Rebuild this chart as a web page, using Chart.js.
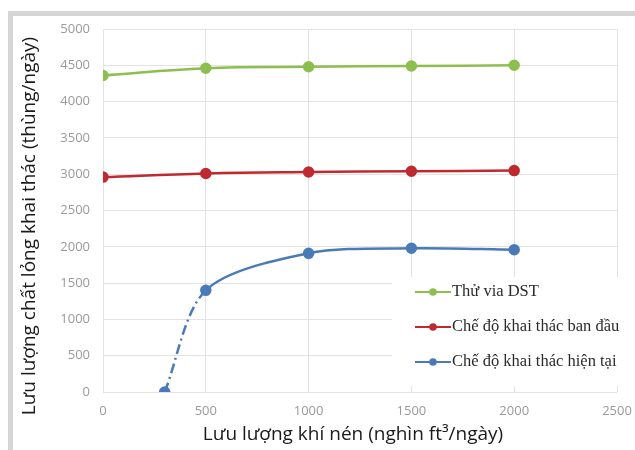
<!DOCTYPE html>
<html>
<head>
<meta charset="utf-8">
<script src="https://cdn.jsdelivr.net/npm/chart.js@4/dist/chart.umd.min.js"></script>
<style>
  html, body { margin: 0; padding: 0; background: #ffffff; }
  #wrap { width: 635px; height: 450px; position: relative; }
</style>
</head>
<body>
<div id="wrap"><canvas id="chart" width="635" height="450"></canvas></div>
<script>
// Gas-lift injection rate (thousand ft3/day) vs. produced liquid rate (bbl/day)
const gasRates = [0, 500, 1000, 1500, 2000];
const dstTest = [4360, 4460, 4480, 4490, 4500];
const initialRegime = [2960, 3010, 3030, 3040, 3050];
const currentGasRates = [300, 500, 1000, 1500, 2000];
const currentRegime = [0, 1400, 1910, 1980, 1960];

const seriesLabels = ['Thử via DST', 'Chế độ khai thác ban đầu', 'Chế độ khai thác hiện tại'];
const xTicks = [0, 500, 1000, 1500, 2000, 2500];
const yTicks = [0, 500, 1000, 1500, 2000, 2500, 3000, 3500, 4000, 4500, 5000];

const xTitle = 'Lưu lượng khí nén (nghìn ft³/ngày)';
const yTitle = 'Lưu lượng chất lỏng khai thác (thùng/ngày)';

const COLORS = { dst: '#8dbf4f', initial: '#bf2a30', current: '#4a7bb8' };

const pts = (xs, ys) => xs.map((x, i) => ({ x: x, y: ys[i] }));

// Grey frame around the figure
const framePlugin = {
  id: 'frame',
  beforeDraw(chart) {
    const c = chart.ctx;
    c.save();
    c.fillStyle = '#ffffff';
    c.fillRect(0, 0, chart.width, chart.height);
    c.fillStyle = '#d5d5d5';
    c.fillRect(8, 11, chart.width - 8, 5);
    c.fillRect(8, 11, 5, chart.height - 11);
    c.restore();
  }
};

// Axis titles
const titlesPlugin = {
  id: 'axisTitles',
  afterDraw(chart) {
    const c = chart.ctx;
    c.save();
    c.fillStyle = '#1a1a1a';
    c.font = '19px "Open Sans", "Noto Sans", sans-serif';
    c.textAlign = 'center';
    c.textBaseline = 'middle';
    c.fillText(xTitle, 353, 435);
    c.translate(30, 226);
    c.rotate(-Math.PI / 2);
    c.fillText(yTitle, 0, 0);
    c.restore();
  }
};

// Legend box in the lower right of the plot
const legendBoxPlugin = {
  id: 'legendBox',
  afterDatasetsDraw(chart) {
    const c = chart.ctx;
    c.save();
    c.fillStyle = '#ffffff';
    c.fillRect(392, 277, 236, 109);
    const rows = [292, 327, 362];
    chart.data.datasets.forEach((ds, i) => {
      const y = rows[i];
      c.strokeStyle = ds.borderColor;
      c.lineWidth = 2;
      c.beginPath();
      c.moveTo(415, y);
      c.lineTo(451, y);
      c.stroke();
      c.fillStyle = ds.borderColor;
      c.beginPath();
      c.arc(433, y, 3.8, 0, Math.PI * 2);
      c.fill();
      c.fillStyle = '#2b2b2b';
      c.font = '16.5px "Liberation Serif", "DejaVu Serif", serif';
      c.textAlign = 'left';
      c.textBaseline = 'middle';
      c.fillText(ds.label, 452, y);
    });
    c.restore();
  }
};

const lineStyle = (color, tension) => ({
  borderColor: color,
  backgroundColor: color,
  pointBackgroundColor: color,
  pointBorderColor: color,
  borderWidth: 2.5,
  pointRadius: 4.5,
  pointHoverRadius: 4.5,
  tension: tension,
  fill: false
});

new Chart(document.getElementById('chart'), {
  type: 'line',
  data: {
    datasets: [
      Object.assign({ label: seriesLabels[0], data: pts(gasRates, dstTest) }, lineStyle(COLORS.dst, 0.4)),
      Object.assign({ label: seriesLabels[1], data: pts(gasRates, initialRegime) }, lineStyle(COLORS.initial, 0.4)),
      Object.assign({
        label: seriesLabels[2],
        data: pts(currentGasRates, currentRegime),
        segment: {
          borderDash: (ctx) => (ctx.p0DataIndex === 0 ? [10, 4, 2, 4] : undefined)
        }
      }, lineStyle(COLORS.current, 0.3))
    ]
  },
  options: {
    responsive: false,
    animation: false,
    layout: { padding: { left: 0, top: 29, right: 18, bottom: 0 } },
    plugins: {
      legend: { display: false },
      tooltip: { enabled: false },
      title: { display: false }
    },
    scales: {
      x: {
        type: 'linear',
        min: 0,
        max: 2500,
        afterBuildTicks(scale) { scale.ticks = xTicks.map(v => ({ value: v })); },
        afterFit(scale) {
          scale.height = 58;
          scale.paddingLeft = 0;
          scale.paddingRight = 0;
        },
        grid: { color: '#e3e3e3', lineWidth: 1, drawTicks: false },
        border: { display: false },
        ticks: {
          padding: 11,
          color: '#9a9a9a',
          font: { size: 13, family: '"Open Sans", "Noto Sans", sans-serif' },
          maxRotation: 0,
          callback: (v) => String(v)
        }
      },
      y: {
        min: 0,
        max: 5000,
        afterBuildTicks(scale) { scale.ticks = yTicks.map(v => ({ value: v })); },
        afterFit(scale) {
          scale.width = 103;
          scale.paddingTop = 0;
          scale.paddingBottom = 0;
        },
        grid: { color: '#e3e3e3', lineWidth: 1, drawTicks: false },
        border: { display: false },
        ticks: {
          padding: 13,
          color: '#9a9a9a',
          font: { size: 13, family: '"Open Sans", "Noto Sans", sans-serif' },
          callback: (v) => String(v)
        }
      }
    }
  },
  plugins: [framePlugin, titlesPlugin, legendBoxPlugin]
});
</script>
</body>
</html>
